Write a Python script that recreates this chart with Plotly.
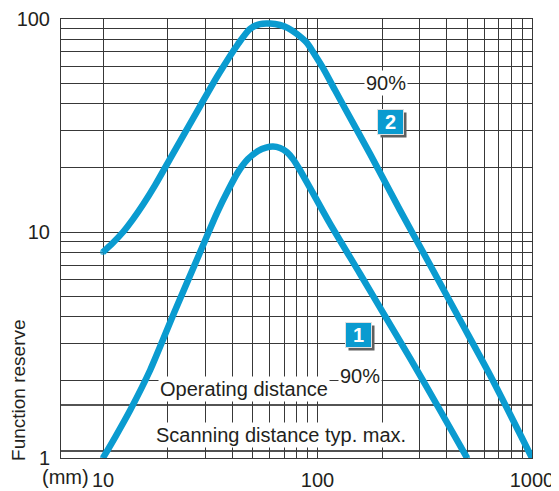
import math
import plotly.graph_objects as go

# ---- data (log-log chart) ----
# Curve 1 : 90 % reflectance, lower curve
c1_x = [10, 11.4, 13.4, 16.6, 21.5, 28.0, 34.0, 38.3, 42.6, 47.4, 52.8, 57.5, 62.0, 66.9,
        72.1, 76.9, 82.9, 92.3, 114, 158, 196, 270, 372, 498]
c1_y = [0.87, 1.09, 1.46, 2.25, 4.2, 7.8, 12.3, 15.7, 19.1, 22.0, 24.0, 24.9, 25.2, 24.8,
        23.7, 22.0, 19.5, 16.1, 11.0, 6.35, 4.40, 2.56, 1.46, 0.87]

# Curve 2 : 90 % reflectance, upper curve
c2_x = [10, 11.1, 12.4, 13.8, 15.4, 17.5, 20.5, 25.4, 34.4, 42.6, 48.4, 53.9, 60.1, 66.8,
        72.9, 80.2, 89.3, 97.3, 106, 120.6, 134, 176, 242, 335, 462, 637, 1000]
c2_y = [8.05, 8.88, 10.0, 11.5, 13.5, 16.6, 22.0, 32.1, 54.6, 76.3, 89.8, 94.7, 95.2, 93.7,
        90.7, 85.0, 77.2, 67.7, 58.9, 46.4, 38.2, 23.2, 12.7, 7.0, 3.86, 2.13, 0.87]

operating_level = 1.54
scanning_level = 0.937

x_grid = [10, 20, 30, 40, 50, 60, 70, 80, 90, 100, 200, 300, 400, 500, 600, 700, 800, 900, 1000]
x_labels = {10: "10", 100: "100", 1000: "1000"}
y_grid = [2, 3, 4, 5, 6, 7, 8, 9, 10, 20, 30, 40, 50, 60, 70, 80, 90, 100]
y_labels = {10: "10", 100: "100"}

x_min, x_max = 6.37, 1000
y_min, y_max = 0.869, 100

BLUE = "#0a9bd0"
TXT = "#231f20"
GRID = "#383838"
FONT = "Liberation Sans"

fig = go.Figure()

for xs, ys in [(c1_x, c1_y), (c2_x, c2_y)]:
    sizes = [6] + [0] * (len(xs) - 2) + [6]
    fig.add_trace(go.Scatter(
        x=xs, y=ys, mode="lines+markers",
        line=dict(color=BLUE, width=6.5, shape="spline", smoothing=0.7),
        marker=dict(color=BLUE, size=sizes, line=dict(width=0)),
        hoverinfo="skip", showlegend=False,
    ))

for lvl in (operating_level, scanning_level):
    fig.add_shape(type="line", xref="paper", x0=0, x1=1, yref="y", y0=lvl, y1=lvl,
                  line=dict(color="#1a1a1a", width=1.6), layer="between")

fig.update_xaxes(
    type="log", range=[math.log10(x_min), math.log10(x_max)],
    tickvals=x_grid, ticktext=[x_labels.get(v, "") for v in x_grid],
    showgrid=True, gridcolor=GRID, gridwidth=1,
    showline=True, linecolor=GRID, linewidth=1, mirror=True,
    ticks="", tickfont=dict(family=FONT, size=20, color=TXT),
    ticklabelstandoff=4, automargin=False,
)
fig.update_yaxes(
    type="log", range=[math.log10(y_min), math.log10(y_max)],
    tickvals=y_grid, ticktext=[y_labels.get(v, "") for v in y_grid],
    showgrid=True, gridcolor=GRID, gridwidth=1,
    showline=True, linecolor=GRID, linewidth=1, mirror=True,
    ticks="", tickfont=dict(family=FONT, size=20, color=TXT),
    ticklabelstandoff=6, automargin=False,
)

def label(text, x, y, **kw):
    d = dict(text=text, x=x, y=y, xref="x", yref="y", showarrow=False,
             font=dict(family=FONT, size=20, color=TXT), bgcolor="white", borderpad=1)
    d.update(kw)
    fig.add_annotation(**d)

lx = lambda v: math.log10(v)
label("Operating distance", lx(45.4), lx(1.83))
label("Scanning distance typ. max.", lx(67.5), lx(1.11))
label("90%", lx(208), lx(50.1))
label("90%", lx(158), lx(2.11))

def box(num, x, y):
    # drop shadow: blank grey box shifted right/down
    fig.add_annotation(text="&nbsp;", x=lx(x), y=lx(y), xref="x", yref="y", showarrow=False,
                       font=dict(family=FONT, size=20, color="#5f5f5f"), bgcolor="#5f5f5f",
                       width=23, height=22, xshift=3, yshift=-3)
    fig.add_annotation(text="<b>" + num + "</b>", x=lx(x), y=lx(y), xref="x", yref="y",
                       showarrow=False,
                       font=dict(family=FONT, size=20, color="white"), bgcolor=BLUE,
                       bordercolor="#e0e0e0", borderwidth=1,
                       width=23, height=22)

box("2", 218, 32.8)
box("1", 156, 3.3)

# axis extras
fig.add_annotation(text="1", xref="paper", yref="paper", x=0, y=0, xanchor="right",
                   yanchor="middle", xshift=-9, showarrow=False,
                   font=dict(family=FONT, size=20, color=TXT))
fig.add_annotation(text="(mm)", xref="x", yref="paper", x=1, y=0, xanchor="right",
                   yanchor="top", xshift=-12, yshift=-6, showarrow=False,
                   font=dict(family=FONT, size=20, color=TXT))
fig.add_annotation(text="Function reserve", xref="paper", yref="paper", x=0, y=0.155,
                   xanchor="center", yanchor="middle", xshift=-42, textangle=-90,
                   showarrow=False, font=dict(family=FONT, size=19, color=TXT))

# the page body keeps an 8 px margin, so the figure is 16 px smaller than the window
fig.update_layout(
    width=551, height=483,
    margin=dict(l=53, r=27, t=11, b=33),
    paper_bgcolor="white", plot_bgcolor="white",
    showlegend=False,
)

fig.write_html("out.html")
